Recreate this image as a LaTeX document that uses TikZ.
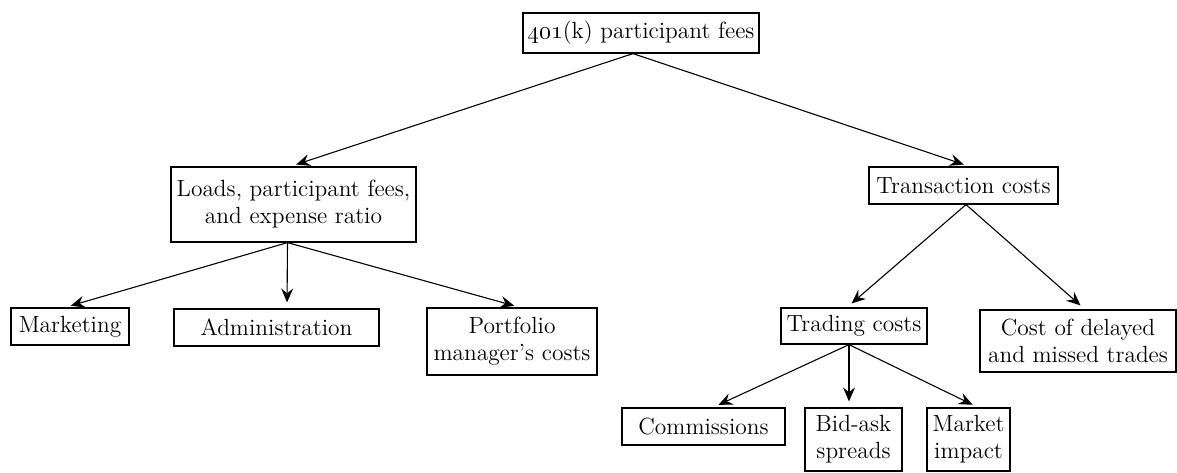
\documentclass[tikz,border=0pt]{standalone}
\usetikzlibrary{arrows.meta}
\newcommand{\diagfont}{\fontsize{11.7}{13.5}\selectfont}
\begin{document}
\begin{tikzpicture}[x=0.5pt,y=-0.5pt,
  box/.style={draw, line width=0.6pt, inner sep=0pt, align=center, font=\diagfont},
  bw/.style={minimum width=#1*0.5pt},
  bh/.style={minimum height=#1*0.5pt},
  arr/.style={line width=0.55pt, -{Stealth[length=7pt,width=6pt,inset=2.5pt]}, shorten >=3pt}]
\useasboundingbox (0,0) rectangle (1177,472);
% nodes
\node[box,bw=236,bh=40] (root) at (641,33) {\oldstylenums{401}(k) participant fees};
\node[box,bw=245,bh=75] (loads) at (293.5,204.5) {Loads, participant fees,\\and expense ratio};
\node[box,bw=189,bh=37] (trans) at (963.5,185.5) {Transaction costs};
\node[box,bw=118,bh=37] (marketing) at (70,326.5) {Marketing};
\node[box,bw=205,bh=37] (admin) at (276.5,327.5) {Administration};
\node[box,bw=170,bh=67] (portfolio) at (512,341.5) {Portfolio\\manager's costs};
\node[box,bw=146,bh=36] (trading) at (854,326) {Trading costs};
\node[box,bw=196,bh=62] (cost) at (1078,341) {Cost of delayed\\and missed trades};
\node[box,bw=163,bh=37] (comm) at (703.5,426.5) {Commissions};
\node[box,bw=97,bh=63] (bidask) at (853.5,439.5) {Bid-ask\\spreads};
\node[box,bw=83,bh=63] (impact) at (968.5,439.5) {Market\\impact};
% connectors
\draw[arr] ([xshift=-4pt]root.south) -- ([xshift=-1.5pt]loads.north);
\draw[arr] ([xshift=-4pt]root.south) -- ([xshift=3pt]trans.north);
\draw[arr] ([xshift=-3pt]loads.south) -- ([xshift=-2.5pt]marketing.north);
\draw[arr] ([xshift=-3pt]loads.south) -- ([xshift=5.25pt]admin.north);
\draw[arr] ([xshift=-3pt]loads.south) -- ([xshift=4pt]portfolio.north);
\draw[arr] ([xshift=1.25pt]trans.south) -- ([xshift=-3.5pt]trading.north);
\draw[arr] ([xshift=1.25pt]trans.south) -- ([xshift=3.5pt]cost.north);
\draw[arr] ([xshift=-2.5pt]trading.south) -- ([xshift=4.75pt]comm.north);
\draw[arr] ([xshift=-2.5pt]trading.south) -- ([xshift=-2.25pt]bidask.north);
\draw[arr] ([xshift=-2.5pt]trading.south) -- ([xshift=4.75pt]impact.north);
\end{tikzpicture}
\end{document}
